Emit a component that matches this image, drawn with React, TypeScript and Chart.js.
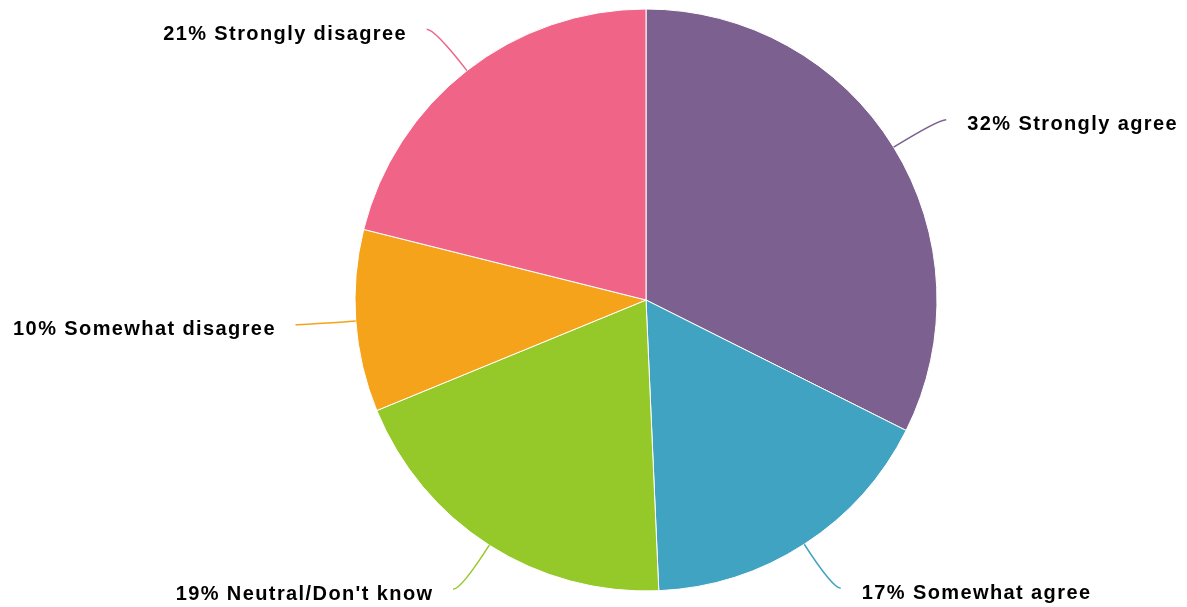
import React, { useEffect, useRef } from "react";
import { Chart, registerables } from "chart.js";

Chart.register(...registerables);

const categories = [
  "Strongly agree",
  "Somewhat agree",
  "Neutral/Don't know",
  "Somewhat disagree",
  "Strongly disagree",
];
const values = [32.4, 16.9, 19.5, 10.1, 21.1];
const percentLabels = ["32%", "17%", "19%", "10%", "21%"];
const colors = ["#7c6190", "#40a3c2", "#95c829", "#f5a31a", "#f06487"];

const leaderPlugin = {
  id: "leaderLabels",
  afterDatasetsDraw(chart: any) {
    const ctx = chart.ctx;
    const meta = chart.getDatasetMeta(0);
    ctx.save();
    meta.data.forEach((arc: any, i: number) => {
      const { x, y, startAngle, endAngle, outerRadius } = arc.getProps(
        ["x", "y", "startAngle", "endAngle", "outerRadius"],
        true
      );
      const mid = (startAngle + endAngle) / 2;
      const cx = Math.cos(mid);
      const cy = Math.sin(mid);
      const side = cx >= 0 ? 1 : -1;
      const sx = x + cx * outerRadius;
      const sy = y + cy * outerRadius;
      const kx = x + cx * outerRadius * 1.18;
      const ky = y + cy * outerRadius * 1.18;
      const ex = kx + side * 8;
      const ey = ky;
      ctx.strokeStyle = colors[i];
      ctx.lineWidth = 1.5;
      ctx.beginPath();
      ctx.moveTo(sx, sy);
      ctx.quadraticCurveTo(kx, ky, ex, ey);
      ctx.stroke();
      ctx.fillStyle = "#000000";
      ctx.font = "bold 20px 'Liberation Sans', Arial, sans-serif";
      (ctx as any).letterSpacing = "1.4px";
      ctx.textBaseline = "middle";
      ctx.textAlign = side > 0 ? "left" : "right";
      ctx.fillText(
        percentLabels[i] + " " + categories[i],
        ex + side * 21 + (side < 0 ? 1.4 : 0),
        ey + 5
      );
      (ctx as any).letterSpacing = "0px";
    });
    ctx.restore();
  },
};

export default function App() {
  const canvasRef = useRef<HTMLCanvasElement | null>(null);
  useEffect(() => {
    if (!canvasRef.current) return;
    const chart = new Chart(canvasRef.current, {
      type: "pie",
      data: {
        labels: categories,
        datasets: [
          {
            data: values,
            backgroundColor: colors,
            borderColor: "#ffffff",
            borderWidth: 1,
            hoverOffset: 0,
          },
        ],
      },
      options: {
        animation: false,
        responsive: true,
        maintainAspectRatio: false,
        radius: 291,
        layout: { padding: { left: 105, right: 0, top: 9, bottom: 16 } },
        plugins: {
          legend: { display: false },
          tooltip: { enabled: false },
        },
      } as any,
      plugins: [leaderPlugin],
    });
    return () => chart.destroy();
  }, []);
  return (
    <div
      style={{
        position: "fixed",
        left: 0,
        top: 0,
        width: "1187px",
        height: "607px",
        background: "#ffffff",
      }}
    >
      <canvas ref={canvasRef} />
    </div>
  );
}
